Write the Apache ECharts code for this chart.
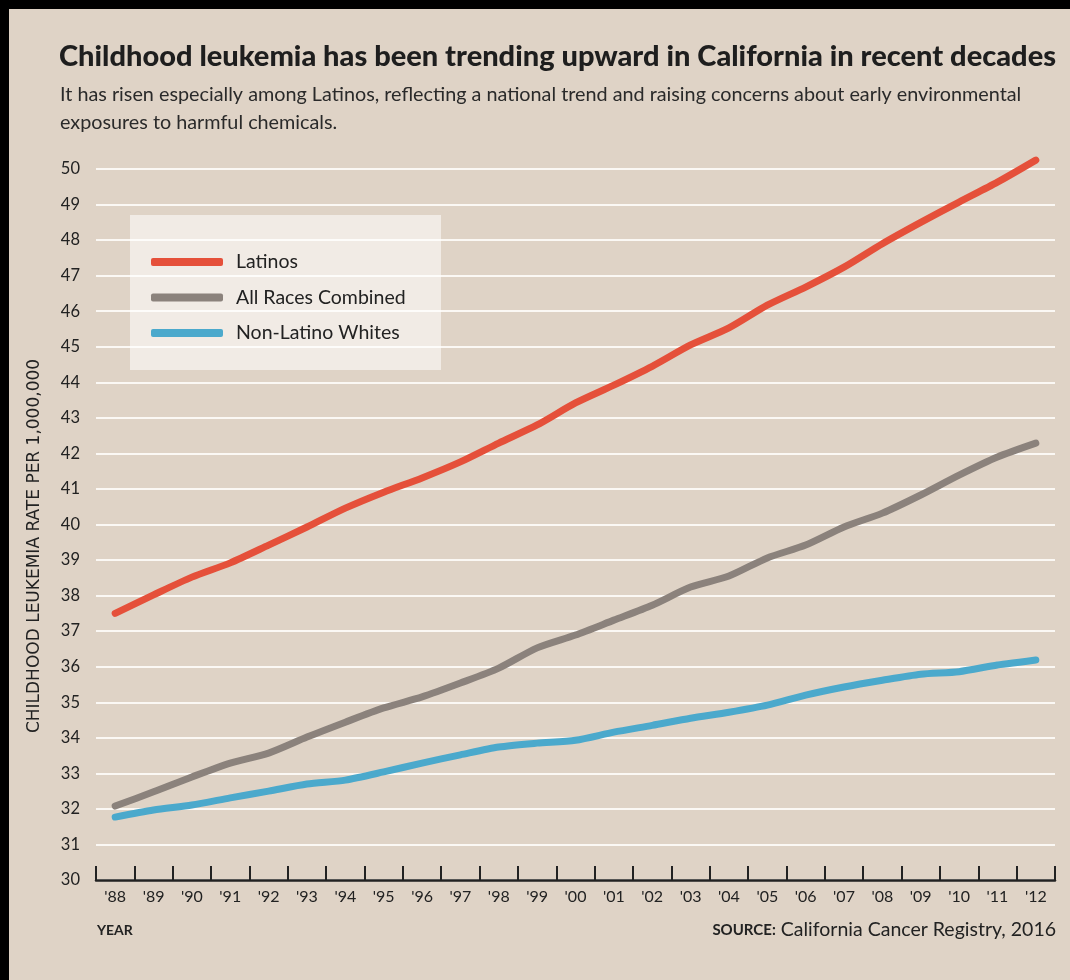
<!DOCTYPE html>
<html>
<head>
<meta charset="utf-8">
<script src="https://cdn.jsdelivr.net/npm/echarts@6/dist/echarts.min.js"></script>
<style>
html,body{margin:0;padding:0;background:#000;}
#chart{width:1070px;height:980px;}
</style>
</head>
<body>
<div id="chart"></div>
<script>
const years = ["'88","'89","'90","'91","'92","'93","'94","'95","'96","'97","'98","'99","'00","'01","'02","'03","'04","'05","'06","'07","'08","'09","'10","'11","'12"];
const latinos = [37.5,38.02,38.52,38.92,39.42,39.93,40.46,40.91,41.31,41.76,42.29,42.8,43.42,43.92,44.45,45.05,45.53,46.17,46.68,47.24,47.9,48.5,49.07,49.63,50.25];
const allRaces = [32.08,32.48,32.9,33.29,33.57,34.02,34.44,34.84,35.15,35.54,35.96,36.53,36.89,37.31,37.73,38.24,38.55,39.06,39.42,39.93,40.32,40.83,41.39,41.9,42.29];
const nonLatinoWhites = [31.77,31.97,32.11,32.31,32.5,32.7,32.81,33.04,33.29,33.52,33.74,33.85,33.93,34.16,34.35,34.55,34.72,34.92,35.2,35.43,35.62,35.79,35.86,36.05,36.19];
const seriesNames = ["Latinos","All Races Combined","Non-Latino Whites"];
const colors = ["#e5503a","#8b827c","#4ba9cc"];
const yTitle = 'CHILDHOOD LEUKEMIA RATE PER 1,000,000';

const FONT = "Lato";
const chart = echarts.init(document.getElementById('chart'), null, {renderer:'canvas'});
function lineSeries(name, data, color){
  return {
    name: name, type:'line', data: data, symbol:'none', smooth:0.25, clip:false,
    lineStyle:{color:color, width:7, cap:'round', join:'round'},
    itemStyle:{color:color}, z:5
  };
}
chart.setOption({
  backgroundColor:'#dfd3c6',
  animation:false,
  textStyle:{fontFamily:FONT},
  graphic:[
    {type:'rect', shape:{x:0,y:0,width:1070,height:9}, style:{fill:'#000'}, silent:true},
    {type:'rect', shape:{x:0,y:0,width:9,height:980}, style:{fill:'#000'}, silent:true},
    {type:'rect', shape:{x:130,y:215,width:311,height:155}, style:{fill:'rgba(255,255,255,0.55)'}, z:3, silent:true},
    {type:'text', x:35, y:546, rotation:Math.PI/2, silent:true,
     style:{text:yTitle, font:'17px "DejaVu Sans"', fill:'#222', align:'center', verticalAlign:'middle'}}
  ],
  title:[
    {text:'Childhood leukemia has been trending upward in California in recent decades',
     left:59, top:42, padding:0,
     textStyle:{fontFamily:FONT, fontWeight:'900', fontSize:29, color:'#1e1e1e'}},
    {text:'It has risen especially among Latinos, reflecting a national trend and raising concerns about early environmental\nexposures to harmful chemicals.',
     left:60, top:81, padding:0,
     textStyle:{fontFamily:FONT, fontWeight:'normal', fontSize:19.8, lineHeight:28, color:'#2a2a2a'}},
    {text:'YEAR', left:97, top:923, padding:0,
     textStyle:{fontFamily:FONT, fontWeight:'bold', fontSize:14, color:'#222'}},
    {text:'{s|SOURCE:} California Cancer Registry, 2016', right:14, top:920, padding:0,
     textStyle:{fontFamily:FONT, fontWeight:'normal', fontSize:19.5, color:'#222',
       rich:{s:{fontFamily:FONT, fontSize:15, fontWeight:'bold', color:'#222'}}}}
  ],
  legend:{
    orient:'vertical', left:146, top:247, itemWidth:72, itemHeight:8, itemGap:15.5,
    icon:'roundRect', data:seriesNames, z:4,
    textStyle:{fontFamily:FONT, fontSize:19.5, lineHeight:20, color:'#222', padding:[0,0,0,8]}
  },
  grid:{left:96, right:15, top:169, bottom:100, containLabel:false},
  xAxis:{
    type:'category', data:years, boundaryGap:true,
    axisLine:{lineStyle:{color:'#222', width:2.5}},
    axisTick:{show:true, inside:true, length:14, alignWithLabel:false, lineStyle:{color:'#222', width:2}},
    axisLabel:{fontFamily:FONT, fontSize:16, color:'#222', margin:9, interval:0},
    splitLine:{show:false}, z:6
  },
  yAxis:{
    type:'value', min:30, max:50, interval:1,
    axisLine:{show:false}, axisTick:{show:false},
    axisLabel:{fontFamily:FONT, fontSize:16.5, color:'#222', margin:16},
    splitLine:{lineStyle:{color:'#fbf8f4', width:2}}
  },
  series:[
    lineSeries(seriesNames[0], latinos, colors[0]),
    lineSeries(seriesNames[1], allRaces, colors[1]),
    lineSeries(seriesNames[2], nonLatinoWhites, colors[2])
  ]
});
</script>
</body>
</html>
